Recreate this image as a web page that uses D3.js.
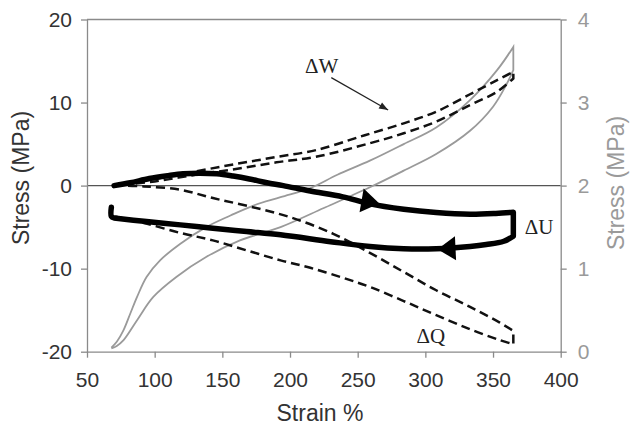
<!DOCTYPE html>
<html>
<head>
<meta charset="utf-8">
<script src="https://cdn.jsdelivr.net/npm/d3@7"></script>
<style>
  html, body { margin: 0; padding: 0; background: #fff; }
  svg { display: block; }
  .sans { font-family: "Liberation Sans", Arial, sans-serif; }
  .serif { font-family: "Liberation Serif", "Times New Roman", serif; }
</style>
</head>
<body>
<svg id="chart" width="630" height="425"></svg>
<script>
// Strain (%) ticks and stress ticks for both axes
const strainTicks = [50, 100, 150, 200, 250, 300, 350, 400];
const stressTicksLeft = [-20, -10, 0, 10, 20];
const stressTicksRight = [0, 1, 2, 3, 4];

// Measured stress-strain loop (right axis, MPa): loading and unloading branches
const grayLower = [[68,0.04],[72,0.07],[77,0.14],[87,0.38],[99,0.66],[116,0.90],[138,1.14],[163,1.34],[193,1.50],[225,1.73],[259,1.98],[284,2.18],[308,2.38],[333,2.66],[350,2.95],[360,3.22],[365,3.39]];
const grayUpper = [[365,3.67],[353,3.39],[333,3.03],[308,2.70],[284,2.50],[259,2.30],[235,2.13],[215,1.97],[193,1.86],[173,1.76],[156,1.64],[138,1.50],[119,1.30],[104,1.10],[94,0.90],[87,0.66],[82,0.46],[77,0.26],[72,0.12],[68,0.05]];

// Work, ΔW (left axis, MPa)
const wUpper = [[70,0],[100,0.8],[130,1.7],[160,2.6],[190,3.45],[220,4.3],[250,5.8],[260,6.3],[284,7.5],[308,8.9],[333,11.0],[353,12.7],[365,13.7]];
const wLower = [[365,12.9],[353,11.3],[333,9.7],[308,7.7],[284,6.3],[259,5.1],[220,3.5],[190,2.8],[160,2.0],[130,1.3],[100,0.5],[70,0]];

// Heat, ΔQ (left axis, MPa)
const qUpper = [[70,0],[92,-0.1],[119,-0.5],[143,-1.5],[170,-2.5],[200,-3.8],[232,-5.8],[259,-8.1],[284,-10.4],[308,-12.6],[333,-14.6],[355,-16.5],[365,-17.5]];
const qLower = [[365,-19.1],[355,-18.6],[333,-17.3],[308,-15.6],[284,-13.9],[259,-12.2],[239,-11.1],[215,-9.9],[193,-9.0],[168,-7.8],[143,-6.6],[119,-5.7],[92,-4.5],[70,-3.7]];

// Internal energy, ΔU (left axis, MPa)
const uUpper = [[70,0],[82,0.35],[96,0.85],[110,1.2],[121,1.42],[133,1.5],[146,1.42],[158,1.15],[170,0.8],[183,0.35],[195,0],[215,-0.65],[239,-1.35],[259,-2.2],[284,-2.85],[308,-3.25],[333,-3.45],[352,-3.35],[365,-3.2]];
const uLower = [[365,-6.1],[358,-6.7],[345,-7.1],[333,-7.33],[308,-7.6],[284,-7.6],[259,-7.33],[230,-6.75],[193,-5.93],[168,-5.53],[143,-5.13],[119,-4.73],[94,-4.33],[70,-3.9]];
const uHook = [[70,-3.9],[68,-3.7],[68,-2.6]];

// Direction arrows on ΔU: [tail strain, tail stress, tip strain, tip stress]
const uArrows = [[252,-1.75,266,-2.15],[322,-7.55,309,-7.65]];

// Curve labels
const labels = [
  {text: "ΔW", strain: 211, stress: 13.6},
  {text: "ΔU", strain: 373.5, stress: -5.8},
  {text: "ΔQ", strain: 293.5, stress: -18.9}
];
// Pointer from the ΔW label to its curves
const wPointer = [[230.5,13.0],[272.5,9.1]];

const svg = d3.select("#chart");
const plotLeft = 87, plotRight = 560.7, plotTop = 19.5, plotBottom = 351.7;

const x = d3.scaleLinear().domain([50, 400]).range([plotLeft, plotRight]);
const yL = d3.scaleLinear().domain([-20, 20]).range([plotBottom, plotTop]);
const yR = d3.scaleLinear().domain([0, 4]).range([plotBottom, plotTop]);

const axisGray = "#8a8a8a";
const lightGray = "#9a9a9a";

// frame line along the top
svg.append("line").attr("x1", plotLeft).attr("x2", plotRight).attr("y1", plotTop).attr("y2", plotTop)
  .attr("stroke", axisGray).attr("stroke-width", 1.3);
// zero line
svg.append("line").attr("x1", plotLeft).attr("x2", plotRight).attr("y1", yL(0)).attr("y2", yL(0))
  .attr("stroke", "#555").attr("stroke-width", 1.2);

// axes
const plain = d => String(d);
const gx = svg.append("g").attr("transform", `translate(0,${plotBottom})`)
  .call(d3.axisBottom(x).tickValues(strainTicks).tickFormat(plain).tickSize(6).tickPadding(14).tickSizeOuter(0));
const gl = svg.append("g").attr("transform", `translate(${plotLeft},0)`)
  .call(d3.axisLeft(yL).tickValues(stressTicksLeft).tickFormat(plain).tickSize(6).tickPadding(9).tickSizeOuter(0));
const gr = svg.append("g").attr("transform", `translate(${plotRight},0)`)
  .call(d3.axisRight(yR).tickValues(stressTicksRight).tickFormat(plain).tickSize(6).tickPadding(11).tickSizeOuter(0));

[gx, gl, gr].forEach(g => {
  g.select(".domain").attr("stroke", axisGray).attr("stroke-width", 1.3);
  g.selectAll(".tick line").attr("stroke", axisGray).attr("stroke-width", 1.3);
  g.selectAll(".tick text").attr("font-size", 21)
    .attr("font-family", "Liberation Sans, Arial, sans-serif");
});
gx.selectAll(".tick text").attr("fill", "#333");
gl.selectAll(".tick text").attr("fill", "#333");
gr.selectAll(".tick text").attr("fill", lightGray);

// axis titles
svg.append("text").attr("class", "sans").attr("font-size", 23).attr("fill", "#333")
  .attr("text-anchor", "middle").attr("x", 320).attr("y", 421).text("Strain %");
svg.append("text").attr("class", "sans").attr("font-size", 23).attr("fill", "#333")
  .attr("text-anchor", "middle").attr("transform", "translate(29,178) rotate(-90)").text("Stress (MPa)");
svg.append("text").attr("class", "sans").attr("font-size", 23).attr("fill", lightGray)
  .attr("text-anchor", "middle").attr("transform", "translate(624,183) rotate(-90)").text("Stress (MPa)");

// smooth branches joined by straight links at the turning points
function loopPath(yScale, branches) {
  const gen = d3.line().x(d => x(d[0])).y(d => yScale(d[1])).curve(d3.curveCatmullRom.alpha(0.5));
  return branches.map((b, i) => {
    const s = gen(b);
    return i === 0 ? s : "L" + s.slice(1);
  }).join("");
}

// measured loop
svg.append("path").attr("d", loopPath(yR, [grayLower, grayUpper]))
  .attr("fill", "none").attr("stroke", lightGray).attr("stroke-width", 1.8);

// ΔW and ΔQ dashed loops
[[wUpper, wLower], [qUpper, qLower]].forEach(br => {
  svg.append("path").attr("d", loopPath(yL, br))
    .attr("fill", "none").attr("stroke", "#111").attr("stroke-width", 2.5)
    .attr("stroke-dasharray", "9,5");
});

// ΔU thick loop
svg.append("path").attr("d", loopPath(yL, [uUpper, uLower, uHook]))
  .attr("fill", "none").attr("stroke", "#000").attr("stroke-width", 5.5)
  .attr("stroke-linejoin", "round").attr("stroke-linecap", "round");

// arrowheads on ΔU
uArrows.forEach(a => {
  const tx = x(a[2]), ty = yL(a[3]);
  const ang = Math.atan2(ty - yL(a[1]), tx - x(a[0]));
  const len = 18, half = 12;
  const bx = tx - len * Math.cos(ang), by = ty - len * Math.sin(ang);
  const px = -Math.sin(ang) * half, py = Math.cos(ang) * half;
  svg.append("path")
    .attr("d", `M${tx},${ty}L${bx + px},${by + py}L${bx - px},${by - py}Z`)
    .attr("fill", "#000");
});

// curve labels
labels.forEach(l => {
  svg.append("text").attr("class", "serif").attr("font-size", 21).attr("fill", "#222")
    .attr("x", x(l.strain)).attr("y", yL(l.stress)).text(l.text);
});

// ΔW pointer
const p0 = [x(wPointer[0][0]), yL(wPointer[0][1])], p1 = [x(wPointer[1][0]), yL(wPointer[1][1])];
svg.append("line").attr("x1", p0[0]).attr("y1", p0[1]).attr("x2", p1[0]).attr("y2", p1[1])
  .attr("stroke", "#222").attr("stroke-width", 1.2);
{
  const ang = Math.atan2(p1[1] - p0[1], p1[0] - p0[0]);
  const len = 9, half = 3.5;
  const bx = p1[0] - len * Math.cos(ang), by = p1[1] - len * Math.sin(ang);
  const px = -Math.sin(ang) * half, py = Math.cos(ang) * half;
  svg.append("path").attr("d", `M${p1[0]},${p1[1]}L${bx + px},${by + py}L${bx - px},${by - py}Z`).attr("fill", "#222");
}
</script>
</body>
</html>
